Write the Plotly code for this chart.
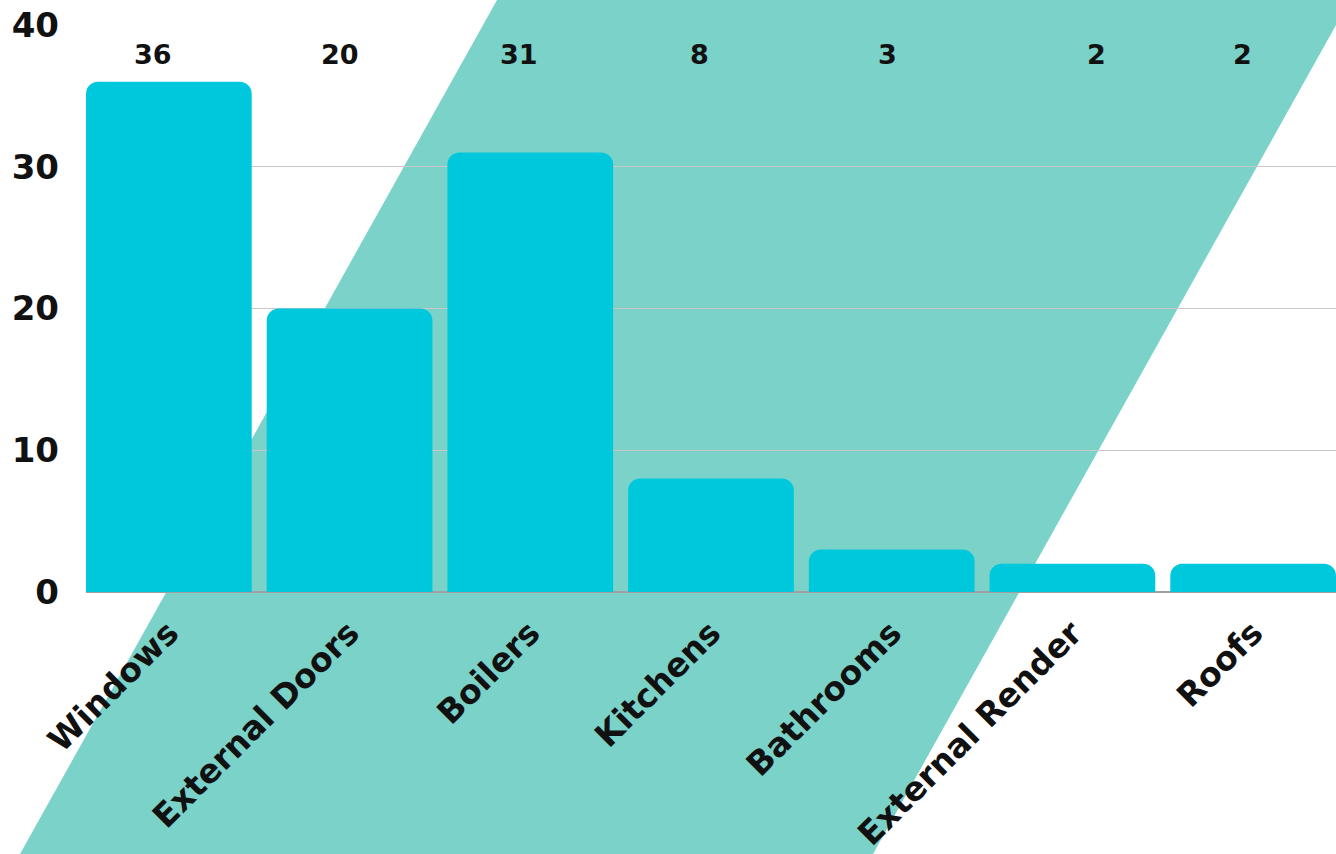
import plotly.graph_objects as go

categories = ["Windows", "External Doors", "Boilers", "Kitchens", "Bathrooms", "External Render", "Roofs"]
values = [36, 20, 31, 8, 3, 2, 2]
y_ticks = [0, 10, 20, 30, 40]
label_shift = [-16, -10, -11, -12, -4, 24, -11]  # horizontal nudges of value labels (px)

W, H = 1336, 854
L, R, T, B = 86, 0, 25, 262
pw, ph = W - L - R, H - T - B

def px(x):
    return (x - L) / pw

def py(y):
    return (H - B - y) / ph

poly = [(497, 0), (1350, 0), (873, 854), (20, 854)]
path = "M " + " L ".join(f"{px(x):.4f},{py(y):.4f}" for x, y in poly) + " Z"

font_family = "'DejaVu Sans', sans-serif"

fig = go.Figure()
fig.add_trace(go.Bar(
    x=categories, y=values,
    marker=dict(color="#00c8dc", line=dict(width=0), cornerradius=12),
    hoverinfo="skip",
))

for c, v, s in zip(categories, values, label_shift):
    fig.add_annotation(
        x=c, y=37.9, text=str(v), showarrow=False, xshift=s,
        font=dict(family=font_family, size=27, color="#111111", weight="bold"),
    )

g = 7.5 / 180.7
fig.update_layout(
    width=W, height=H,
    margin=dict(l=L, r=R, t=T, b=B, pad=0),
    paper_bgcolor="white",
    plot_bgcolor="rgba(0,0,0,0)",
    showlegend=False,
    bargap=15 / 180.7,
    shapes=[dict(type="path", path=path, xref="paper", yref="paper",
                 fillcolor="#7ad2c8", line=dict(width=0), layer="below")],
    xaxis=dict(
        range=[-0.5 + g, 6.5 - g],
        tickangle=-45,
        tickfont=dict(family=font_family, size=33, color="#111111", weight="bold"),
        showgrid=False, showline=False, ticks="", ticklabelstandoff=14,
    ),
    yaxis=dict(
        range=[0, 40], tickvals=y_ticks,
        tickfont=dict(family=font_family, size=34, color="#111111", weight="bold"),
        showgrid=True, gridcolor="#c8c8c8", gridwidth=1,
        zeroline=True, zerolinecolor="#a0a0a0", zerolinewidth=2,
        showline=False, ticks="", ticklabelstandoff=26,
    ),
)

fig.write_html("out.html")
